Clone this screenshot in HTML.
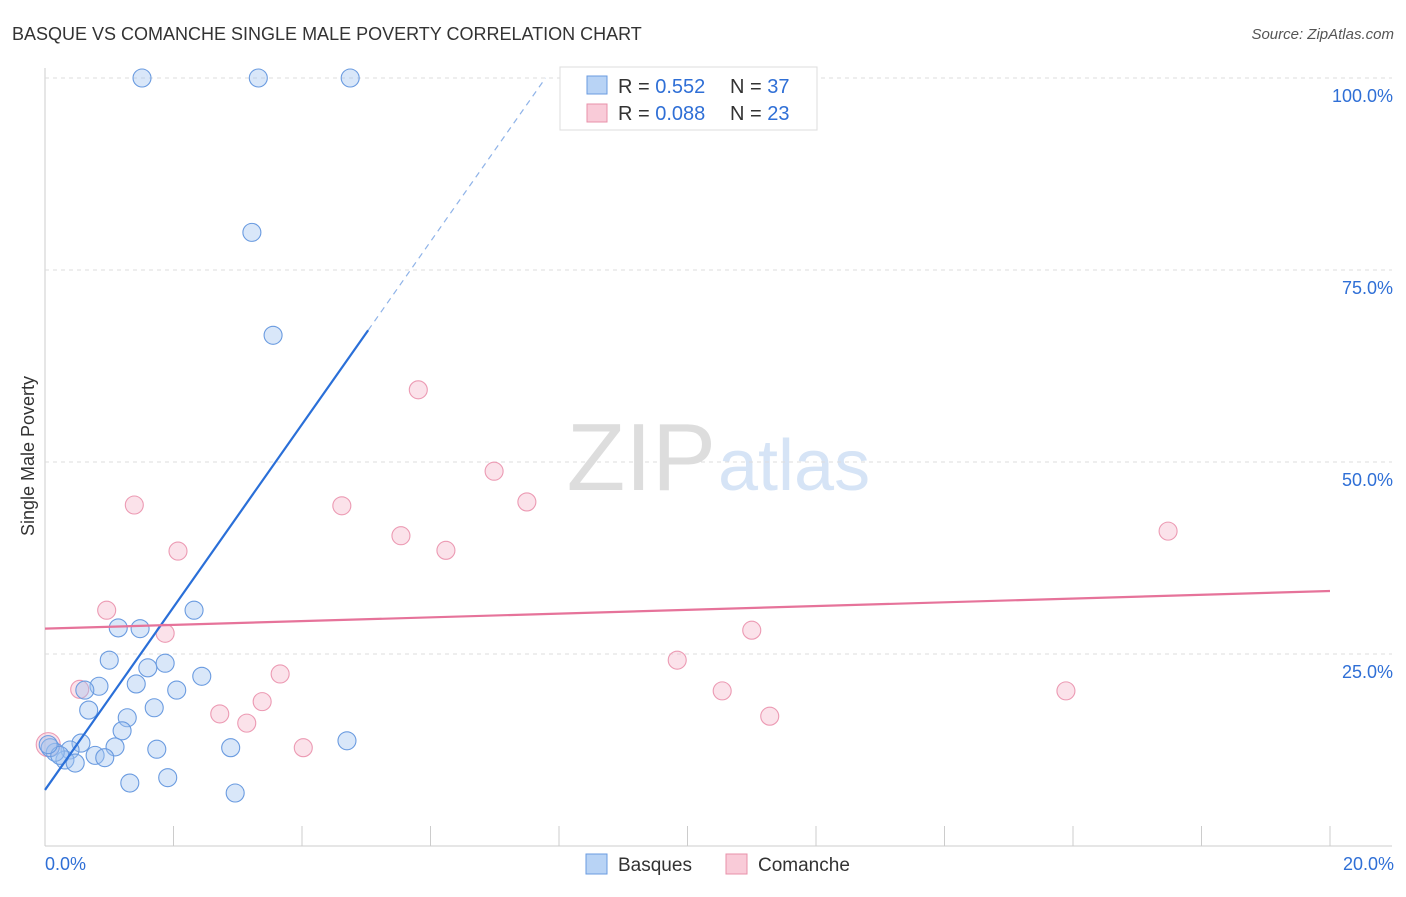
<!DOCTYPE html>
<html><head><meta charset="utf-8"><style>
body{margin:0;background:#fff;font-family:"Liberation Sans",sans-serif;}
svg text{font-family:"Liberation Sans",sans-serif;}
</style></head><body>
<svg id="c" width="1406" height="892" xmlns="http://www.w3.org/2000/svg">
<text x="12" y="40" font-size="18" fill="#333">BASQUE VS COMANCHE SINGLE MALE POVERTY CORRELATION CHART</text>
<text x="1394" y="39" font-size="15" fill="#555" font-style="italic" text-anchor="end">Source: ZipAtlas.com</text>
<text x="716" y="490" font-size="96" fill="#ddd" text-anchor="end" font-family="Liberation Serif">ZIP</text>
<text x="718" y="490" font-size="72" fill="#d6e4f6">atlas</text>
<text transform="translate(34,456) rotate(-90)" font-size="18" fill="#333" text-anchor="middle">Single Male Poverty</text>
<g id="grid"></g><g id="marks"></g>
<g>
<rect x="560" y="67" width="257" height="63" fill="#fff" stroke="#ddd"/>
<rect x="587" y="76" width="20" height="18" fill="#b8d3f5" stroke="#6a9be0"/>
<rect x="587" y="104" width="20" height="18" fill="#f9cbd8" stroke="#e890aa"/>
<text x="618" y="93" font-size="20" fill="#333">R = <tspan fill="#2f6fd6">0.552</tspan><tspan x="730">N = </tspan><tspan fill="#2f6fd6">37</tspan></text>
<text x="618" y="120" font-size="20" fill="#333">R = <tspan fill="#2f6fd6">0.088</tspan><tspan x="730">N = </tspan><tspan fill="#2f6fd6">23</tspan></text>
</g>
<g>
<rect x="586" y="854" width="21" height="20" fill="#b8d3f5" stroke="#6a9be0"/>
<text x="618" y="871" font-size="19" fill="#333">Basques</text>
<rect x="726" y="854" width="21" height="20" fill="#f9cbd8" stroke="#e890aa"/>
<text x="758" y="871" font-size="19" fill="#333">Comanche</text>
</g>
</svg>
<script>
const basqueX=[1.51,3.32,4.75,3.22,3.55,2.32,1.14,1.48,1.0,1.87,1.60,0.84,1.42,0.62,2.05,2.44,1.70,0.68,1.28,1.20,0.56,0.39,1.09,1.74,2.89,4.70,0.78,0.93,0.31,0.47,1.91,1.32,2.96,0.16,0.08,0.23,0.05];
const basqueY=[100,100,100,79.9,66.5,30.7,28.4,28.3,24.2,23.8,23.2,20.8,21.1,20.3,20.3,22.1,18.0,17.7,16.7,15.0,13.4,12.5,12.9,12.6,12.8,13.7,11.8,11.5,11.2,10.8,8.9,8.2,6.9,12.2,12.8,11.8,13.2];
const comX=[1.39,2.07,0.96,1.87,0.54,2.72,3.14,3.38,3.66,4.02,4.62,5.54,6.24,5.81,6.99,7.50,9.84,10.54,11.0,11.28,15.89,17.48,0.05];
const comY=[44.4,38.4,30.7,27.7,20.4,17.2,16.0,18.8,22.4,12.8,44.3,40.4,38.5,59.4,48.8,44.8,24.2,20.2,28.1,16.9,20.2,41.0,13.2];
const yTicks=[25,50,75,100];
const xTicks=[0,2,4,6,8,10,12,14,16,18,20];
const basqueTrend=[7.3,11.9];
const comTrend=[28.3,33.2];
const X=v=>45+v*64.25, Y=v=>846-v*7.68;
const NS="http://www.w3.org/2000/svg";
function mk(t,a,p){const e=document.createElementNS(NS,t);for(const k in a)e.setAttribute(k,a[k]);p.appendChild(e);return e;}
const g=document.getElementById('grid'), m=document.getElementById('marks');
mk('line',{x1:45,y1:68,x2:45,y2:846,stroke:'#ccc'},g);
mk('line',{x1:45,y1:846,x2:1392,y2:846,stroke:'#ccc'},g);
yTicks.forEach(t=>{
 const l=mk('line',{x1:45,y1:Y(t),x2:1392,y2:Y(t),stroke:'#ddd','stroke-dasharray':'4,4'},g);
 
 
 const tx=mk('text',{x:1393,y:Y(t)+24,'font-size':18,fill:'#2f6fd6','text-anchor':'end'},g);
 tx.textContent=t.toFixed(1)+'%';
 
 
});
xTicks.forEach(t=>{
 const l=mk('line',{x1:X(t),y1:826,x2:X(t),y2:846,stroke:'#ccc'},g);
 
 
});
[[0,'start',45],[20,'end',1394]].forEach(([t,a,x])=>{
 const tx=mk('text',{x:x,y:870,'font-size':18,fill:'#2f6fd6','text-anchor':a},g);
 tx.textContent=t.toFixed(1)+'%';
 
 
});
comX.forEach((x,i)=>{
 const c=mk('circle',{cx:X(x),cy:Y(comY[i]),r:i==comX.length-1?12:9,fill:'rgba(246,182,202,0.4)',stroke:'#ec9ab3','stroke-width':1.1},m);
 
 
});
basqueX.forEach((x,i)=>{
 const c=mk('circle',{cx:X(x),cy:Y(basqueY[i]),r:9,fill:'rgba(160,194,240,0.4)',stroke:'#6a9be0','stroke-width':1.1},m);
 
 
});
const bx1=5.03, bxEnd=(100-basqueTrend[0])/basqueTrend[1];
let l=mk('line',{x1:X(0),y1:Y(basqueTrend[0]),x2:X(bx1),y2:Y(basqueTrend[0]+basqueTrend[1]*bx1),stroke:'#2a6fd8','stroke-width':2.2},m);


l=mk('line',{x1:X(bx1),y1:Y(basqueTrend[0]+basqueTrend[1]*bx1),x2:X(bxEnd),y2:Y(100),stroke:'#8fb3e8','stroke-width':1.2,'stroke-dasharray':'6,5'},m);


l=mk('line',{x1:X(0),y1:Y(comTrend[0]),x2:X(20),y2:Y(comTrend[1]),stroke:'#e6739a','stroke-width':2.2},m);


</script>
</body></html>
